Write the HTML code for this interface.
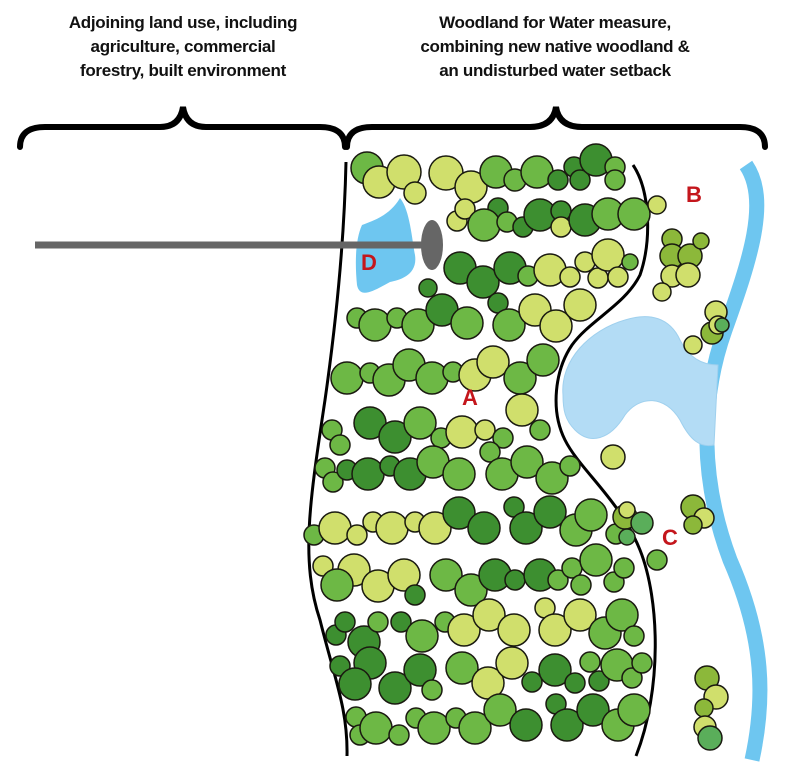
<!DOCTYPE html>
<html><head><meta charset="utf-8"><style>
html,body{margin:0;padding:0;background:#fff;}
svg{display:block}
.t{font-family:"Liberation Sans",sans-serif;font-weight:bold;font-size:17px;fill:#111;text-anchor:middle;letter-spacing:-0.3px}
circle{stroke:#1a1a10;stroke-width:1.5}
.a{fill:#d0df6c}.b{fill:#6db845}.c{fill:#3d8f30}.d{fill:#8cb83a}.e{fill:#5aae5a}
.L{font-family:"Liberation Sans",sans-serif;font-weight:bold;font-size:22px;fill:#c4161c}
</style></head><body>
<svg width="790" height="774" viewBox="0 0 790 774">
<text class="t" x="183" y="28">Adjoining land use, including</text>
<text class="t" x="183" y="52">agriculture, commercial</text>
<text class="t" x="183" y="76">forestry, built environment</text>
<text class="t" x="555" y="28">Woodland for Water measure,</text>
<text class="t" x="555" y="52">combining new native woodland &amp;</text>
<text class="t" x="555" y="76">an undisturbed water setback</text>
<g fill="none" stroke="#000" stroke-width="6" stroke-linecap="round">
<path d="M20,147 Q20,127 45,127 L160,127 Q180,127 183,107 Q186,127 206,127 L320,127 Q345,127 345,147"/>
<path d="M347,147 Q347,127 372,127 L530,127 Q553,127 556,107 Q559,127 582,127 L740,127 Q765,127 765,147"/>
</g>
<!-- river -->
<path d="M746,165 C770,200 750,260 725,330 C700,400 700,480 730,560 C765,640 765,700 752,760" fill="none" stroke="#6ec6f0" stroke-width="15"/>
<!-- pond -->
<path d="M563,395 C560,360 590,330 625,320 C650,312 670,318 680,340 C690,360 705,365 718,365 L714,445 C700,448 690,440 680,420 C665,395 640,395 625,415 C610,440 590,445 575,430 C565,420 563,410 563,395Z" fill="#b3dcf5" stroke="#9fd0ee" stroke-width="1"/>
<!-- boundary -->
<g fill="none" stroke="#000" stroke-width="3">
<path d="M346,162 C344,250 335,330 325,400 C310,500 300,560 320,620 C335,680 348,710 347,756"/>
<path d="M633,165 C650,190 652,240 640,275 C625,305 590,320 572,345 C555,370 550,410 565,440 C580,470 620,500 640,550 C660,600 662,690 636,756"/>
</g>
<!-- D pond -->
<path d="M362,225 C375,220 390,215 400,198 C410,210 412,240 415,255 C418,275 400,280 390,282 C375,290 360,300 357,285 C355,265 355,240 362,225Z" fill="#6ec6f0"/>
<line x1="35" y1="245" x2="425" y2="245" stroke="#666" stroke-width="7"/>
<ellipse cx="432" cy="245" rx="11" ry="25" fill="#666"/>
<!-- trees -->
<g>
<!-- row1 -->
<circle class="b" cx="367" cy="168" r="16"/><circle class="a" cx="379" cy="182" r="16"/><circle class="a" cx="404" cy="172" r="17"/><circle class="a" cx="415" cy="193" r="11"/><circle class="a" cx="446" cy="173" r="17"/><circle class="a" cx="471" cy="187" r="16"/>
<circle class="b" cx="496" cy="172" r="16"/><circle class="b" cx="515" cy="180" r="11"/><circle class="b" cx="537" cy="172" r="16"/><circle class="c" cx="558" cy="180" r="10"/><circle class="c" cx="574" cy="167" r="10"/><circle class="c" cx="580" cy="180" r="10"/><circle class="c" cx="596" cy="160" r="16"/><circle class="b" cx="615" cy="167" r="10"/><circle class="b" cx="615" cy="180" r="10"/>
<!-- row2 -->
<circle class="a" cx="457" cy="221" r="10"/><circle class="a" cx="465" cy="209" r="10"/><circle class="c" cx="498" cy="208" r="10"/><circle class="b" cx="484" cy="225" r="16"/><circle class="b" cx="507" cy="222" r="10"/><circle class="c" cx="523" cy="227" r="10"/><circle class="c" cx="540" cy="215" r="16"/><circle class="c" cx="561" cy="211" r="10"/><circle class="a" cx="561" cy="227" r="10"/><circle class="c" cx="585" cy="220" r="16"/><circle class="b" cx="608" cy="214" r="16"/><circle class="b" cx="634" cy="214" r="16"/><circle class="a" cx="657" cy="205" r="9"/>
<!-- row3 -->
<circle class="c" cx="460" cy="268" r="16"/><circle class="c" cx="483" cy="282" r="16"/><circle class="c" cx="510" cy="268" r="16"/><circle class="b" cx="528" cy="276" r="10"/><circle class="a" cx="550" cy="270" r="16"/><circle class="a" cx="570" cy="277" r="10"/><circle class="a" cx="585" cy="262" r="10"/><circle class="a" cx="598" cy="278" r="10"/><circle class="a" cx="608" cy="255" r="16"/><circle class="a" cx="618" cy="277" r="10"/><circle class="b" cx="630" cy="262" r="8"/>
<!-- row4 -->
<circle class="c" cx="428" cy="288" r="9"/><circle class="b" cx="357" cy="318" r="10"/><circle class="b" cx="375" cy="325" r="16"/><circle class="b" cx="397" cy="318" r="10"/><circle class="b" cx="418" cy="325" r="16"/><circle class="c" cx="442" cy="310" r="16"/><circle class="b" cx="467" cy="323" r="16"/><circle class="c" cx="498" cy="303" r="10"/><circle class="b" cx="509" cy="325" r="16"/><circle class="a" cx="535" cy="310" r="16"/><circle class="a" cx="556" cy="326" r="16"/><circle class="a" cx="580" cy="305" r="16"/>
<!-- row5 -->
<circle class="b" cx="347" cy="378" r="16"/><circle class="b" cx="370" cy="373" r="10"/><circle class="b" cx="389" cy="380" r="16"/><circle class="b" cx="409" cy="365" r="16"/><circle class="b" cx="432" cy="378" r="16"/><circle class="b" cx="453" cy="372" r="10"/><circle class="a" cx="475" cy="375" r="16"/><circle class="a" cx="493" cy="362" r="16"/><circle class="b" cx="520" cy="378" r="16"/><circle class="b" cx="543" cy="360" r="16"/>
<!-- row6 -->
<circle class="b" cx="332" cy="430" r="10"/><circle class="b" cx="340" cy="445" r="10"/><circle class="c" cx="370" cy="423" r="16"/><circle class="c" cx="395" cy="437" r="16"/><circle class="b" cx="420" cy="423" r="16"/><circle class="b" cx="441" cy="438" r="10"/><circle class="a" cx="462" cy="432" r="16"/><circle class="a" cx="485" cy="430" r="10"/><circle class="b" cx="503" cy="438" r="10"/><circle class="a" cx="522" cy="410" r="16"/><circle class="b" cx="540" cy="430" r="10"/>
<!-- row7 -->
<circle class="b" cx="325" cy="468" r="10"/><circle class="b" cx="333" cy="482" r="10"/><circle class="c" cx="347" cy="470" r="10"/><circle class="c" cx="368" cy="474" r="16"/><circle class="c" cx="390" cy="466" r="10"/><circle class="c" cx="410" cy="474" r="16"/><circle class="b" cx="433" cy="462" r="16"/><circle class="b" cx="459" cy="474" r="16"/><circle class="b" cx="490" cy="452" r="10"/><circle class="b" cx="502" cy="474" r="16"/><circle class="b" cx="527" cy="462" r="16"/><circle class="b" cx="552" cy="478" r="16"/><circle class="b" cx="570" cy="466" r="10"/><circle class="a" cx="613" cy="457" r="12"/>
<!-- row8 -->
<circle class="b" cx="314" cy="535" r="10"/><circle class="a" cx="335" cy="528" r="16"/><circle class="a" cx="357" cy="535" r="10"/><circle class="a" cx="373" cy="522" r="10"/><circle class="a" cx="392" cy="528" r="16"/><circle class="a" cx="415" cy="522" r="10"/><circle class="a" cx="435" cy="528" r="16"/><circle class="c" cx="459" cy="513" r="16"/><circle class="c" cx="484" cy="528" r="16"/><circle class="c" cx="514" cy="507" r="10"/><circle class="c" cx="526" cy="528" r="16"/><circle class="c" cx="550" cy="512" r="16"/><circle class="b" cx="576" cy="530" r="16"/><circle class="b" cx="591" cy="515" r="16"/><circle class="b" cx="616" cy="534" r="10"/><circle class="d" cx="625" cy="517" r="12"/><circle class="a" cx="627" cy="510" r="8"/><circle class="e" cx="642" cy="523" r="11"/><circle class="e" cx="627" cy="537" r="8"/>
<!-- row9 -->
<circle class="a" cx="323" cy="566" r="10"/><circle class="a" cx="354" cy="570" r="16"/><circle class="b" cx="337" cy="585" r="16"/><circle class="a" cx="378" cy="586" r="16"/><circle class="a" cx="404" cy="575" r="16"/><circle class="c" cx="415" cy="595" r="10"/><circle class="b" cx="446" cy="575" r="16"/><circle class="b" cx="471" cy="590" r="16"/><circle class="c" cx="495" cy="575" r="16"/><circle class="c" cx="515" cy="580" r="10"/><circle class="c" cx="540" cy="575" r="16"/><circle class="b" cx="558" cy="580" r="10"/><circle class="b" cx="572" cy="568" r="10"/><circle class="b" cx="581" cy="585" r="10"/><circle class="b" cx="596" cy="560" r="16"/><circle class="b" cx="614" cy="582" r="10"/><circle class="b" cx="624" cy="568" r="10"/><circle class="b" cx="657" cy="560" r="10"/>
<!-- row10 -->
<circle class="c" cx="336" cy="635" r="10"/><circle class="c" cx="345" cy="622" r="10"/><circle class="c" cx="364" cy="642" r="16"/><circle class="b" cx="378" cy="622" r="10"/><circle class="c" cx="401" cy="622" r="10"/><circle class="b" cx="422" cy="636" r="16"/><circle class="b" cx="445" cy="622" r="10"/><circle class="a" cx="464" cy="630" r="16"/><circle class="a" cx="489" cy="615" r="16"/><circle class="a" cx="514" cy="630" r="16"/><circle class="a" cx="545" cy="608" r="10"/><circle class="a" cx="555" cy="630" r="16"/><circle class="a" cx="580" cy="615" r="16"/><circle class="b" cx="605" cy="633" r="16"/><circle class="b" cx="622" cy="615" r="16"/><circle class="b" cx="634" cy="636" r="10"/>
<!-- row11 -->
<circle class="c" cx="340" cy="666" r="10"/><circle class="c" cx="370" cy="663" r="16"/><circle class="c" cx="355" cy="684" r="16"/><circle class="c" cx="395" cy="688" r="16"/><circle class="c" cx="420" cy="670" r="16"/><circle class="b" cx="432" cy="690" r="10"/><circle class="b" cx="462" cy="668" r="16"/><circle class="a" cx="488" cy="683" r="16"/><circle class="a" cx="512" cy="663" r="16"/><circle class="c" cx="532" cy="682" r="10"/><circle class="c" cx="555" cy="670" r="16"/><circle class="c" cx="575" cy="683" r="10"/><circle class="b" cx="590" cy="662" r="10"/><circle class="c" cx="599" cy="681" r="10"/><circle class="b" cx="617" cy="665" r="16"/><circle class="b" cx="632" cy="678" r="10"/><circle class="b" cx="642" cy="663" r="10"/>
<!-- row12 -->
<circle class="b" cx="356" cy="717" r="10"/><circle class="b" cx="360" cy="735" r="10"/><circle class="b" cx="376" cy="728" r="16"/><circle class="b" cx="399" cy="735" r="10"/><circle class="b" cx="416" cy="718" r="10"/><circle class="b" cx="434" cy="728" r="16"/><circle class="b" cx="456" cy="718" r="10"/><circle class="b" cx="475" cy="728" r="16"/><circle class="b" cx="500" cy="710" r="16"/><circle class="c" cx="526" cy="725" r="16"/><circle class="c" cx="556" cy="704" r="10"/><circle class="c" cx="567" cy="725" r="16"/><circle class="c" cx="593" cy="710" r="16"/><circle class="b" cx="618" cy="725" r="16"/><circle class="b" cx="634" cy="710" r="16"/>
<!-- outside clusters -->
<circle class="d" cx="672" cy="239" r="10"/><circle class="d" cx="672" cy="256" r="12"/><circle class="d" cx="690" cy="256" r="12"/><circle class="d" cx="701" cy="241" r="8"/><circle class="a" cx="672" cy="276" r="11"/><circle class="a" cx="688" cy="275" r="12"/><circle class="a" cx="662" cy="292" r="9"/>
<circle class="a" cx="716" cy="312" r="11"/><circle class="d" cx="712" cy="333" r="11"/><circle class="a" cx="718" cy="325" r="9"/><circle class="e" cx="722" cy="325" r="7"/><circle class="a" cx="693" cy="345" r="9"/>
<circle class="d" cx="693" cy="507" r="12"/><circle class="a" cx="704" cy="518" r="10"/><circle class="d" cx="693" cy="525" r="9"/>
<circle class="d" cx="707" cy="678" r="12"/><circle class="a" cx="716" cy="697" r="12"/><circle class="d" cx="704" cy="708" r="9"/><circle class="a" cx="705" cy="727" r="11"/><circle class="e" cx="710" cy="738" r="12"/>
</g>
<text class="L" x="361" y="270">D</text>
<text class="L" x="686" y="202">B</text>
<text class="L" x="462" y="405">A</text>
<text class="L" x="662" y="545">C</text>
</svg>
</body></html>
